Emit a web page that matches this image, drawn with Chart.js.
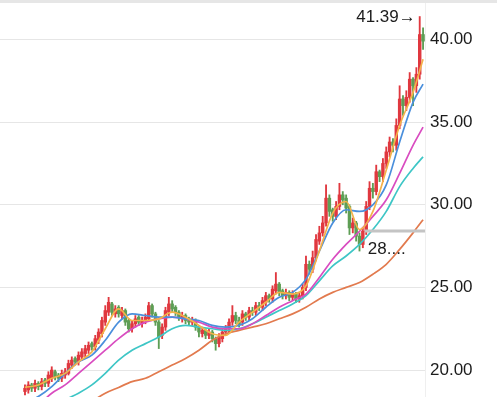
<!DOCTYPE html>
<html>
<head>
<meta charset="utf-8">
<script src="https://cdn.jsdelivr.net/npm/chart.js@4.4.1/dist/chart.umd.min.js"></script>
<style>
html,body{margin:0;padding:0;background:#fff;}
#wrap{position:relative;width:497px;height:397px;}
</style>
</head>
<body>
<div id="wrap"><canvas id="c"></canvas></div>
<script>
// ---- data ----
const openP  = [18.7,18.8,19.1,18.9,19.2,19.0,19.4,19.2,19.5,19.9,19.7,19.5,19.7,19.8,20.3,20.7,20.5,20.8,21.0,21.2,21.6,21.4,21.8,22.2,22.9,23.5,24.0,23.4,23.8,23.3,23.6,23.0,22.5,22.8,23.2,22.8,23.0,23.1,23.9,23.4,22.9,22.1,22.6,23.5,24.0,23.8,23.5,23.1,23.3,23.1,22.9,23.0,22.6,22.2,22.4,22.1,22.3,21.9,21.6,21.9,22.3,22.5,22.9,23.3,23.0,22.9,23.4,23.2,23.6,23.5,23.9,23.8,24.1,24.5,24.3,24.8,25.2,24.8,24.5,24.7,24.4,24.6,24.3,24.5,25.0,26.4,26.1,26.8,27.8,28.3,28.9,30.4,29.7,29.3,29.9,30.6,30.4,29.9,28.6,28.9,28.1,27.6,28.4,29.9,31.0,30.8,32.0,31.7,32.5,33.2,33.8,33.6,34.8,36.4,36.0,36.5,37.6,37.2,37.9,40.3];
const closeP = [18.9,19.1,18.9,19.2,19.0,19.3,19.2,19.7,20.0,19.6,19.5,19.8,19.9,20.4,20.6,20.5,20.9,21.1,21.3,21.5,21.4,21.9,22.3,23.0,23.6,24.1,23.5,23.7,23.4,23.6,22.9,22.5,22.8,23.1,22.9,23.0,23.2,23.9,23.4,22.9,22.0,22.6,23.6,24.0,23.7,23.5,23.2,23.3,23.0,22.9,23.0,22.6,22.3,22.4,22.1,22.3,21.9,21.6,22.0,22.3,22.5,22.9,23.3,23.0,22.8,23.4,23.2,23.6,23.5,23.9,23.8,24.2,24.5,24.3,24.9,25.2,24.7,24.5,24.7,24.4,24.6,24.3,24.5,25.0,26.4,26.1,26.8,27.9,28.3,28.9,30.4,29.6,29.3,29.9,30.6,30.3,29.8,28.6,28.9,28.1,27.6,28.4,29.9,31.0,30.8,32.0,31.7,32.5,33.2,33.8,33.6,34.8,36.4,36.0,36.5,37.6,37.2,37.9,40.3,39.9];
const highP  = [19.1,19.3,19.2,19.4,19.3,19.5,19.5,19.9,20.2,20.0,19.8,20.0,20.1,20.6,20.8,20.8,21.1,21.3,21.5,21.7,21.7,22.1,22.5,23.2,23.9,24.4,24.1,23.9,23.9,23.8,23.7,23.1,23.0,23.3,23.3,23.2,23.4,24.1,24.0,23.5,23.0,22.8,23.8,24.4,24.2,23.9,23.6,23.5,23.4,23.2,23.2,23.1,22.7,22.6,22.5,22.5,22.4,22.0,22.2,22.5,22.7,23.1,23.9,23.5,23.2,23.6,23.5,23.8,23.8,24.1,24.1,24.4,24.7,24.6,25.1,25.9,25.3,24.9,24.9,24.8,24.8,24.7,24.7,25.2,26.9,26.6,27.2,28.2,28.7,29.3,31.2,30.6,29.8,30.2,31.3,30.8,30.6,30.0,29.2,29.0,28.3,28.6,30.2,31.4,31.3,32.4,32.1,32.8,33.5,34.1,34.0,35.2,37.2,36.6,36.9,38.0,37.7,38.3,41.39,40.7];
const lowP   = [18.5,18.6,18.7,18.7,18.8,18.8,19.0,19.0,19.3,19.4,19.3,19.3,19.5,19.7,20.1,20.3,20.3,20.6,20.8,21.0,21.2,21.2,21.6,22.0,22.7,23.3,23.3,23.2,23.2,23.1,22.7,22.3,22.3,22.6,22.7,22.6,22.8,23.0,23.2,22.7,21.3,21.9,22.4,23.3,23.5,23.3,23.0,22.9,22.8,22.7,22.7,22.4,22.0,22.0,21.9,21.9,21.7,21.2,21.4,21.7,22.1,22.3,22.7,22.8,22.6,22.7,23.0,23.0,23.3,23.3,23.6,23.6,23.9,24.1,24.1,24.6,24.5,24.3,24.3,24.2,24.2,24.1,24.1,24.3,24.8,25.8,25.9,26.6,27.6,28.1,28.7,29.3,29.0,29.1,29.7,30.0,29.5,28.2,28.3,27.8,27.2,27.4,28.2,29.7,30.4,30.6,31.4,31.4,32.2,32.9,33.2,33.3,34.6,35.4,35.7,36.2,36.0,36.8,37.6,39.4];

// moving-average lines, sampled at these candle positions
const maIdx  = [0,4,8,12,16,20,24,28,32,36,40,44,48,52,56,60,64,68,72,76,80,84,88,92,96,100,104,108,112,116,119];
const ma5    = [18.95,19.1,19.5,19.8,20.5,21.1,22.5,23.7,23.0,23.0,23.1,23.5,23.2,22.7,22.2,22.1,22.9,23.5,24.1,24.7,24.6,25.1,27.2,29.5,30.2,28.5,29.6,32.1,34.8,36.8,38.8];
const ma10   = [18.0,18.4,19.0,19.8,20.5,20.9,21.8,22.9,23.4,23.3,23.2,23.2,23.1,23.0,22.7,22.6,22.7,23.1,23.8,24.4,24.7,25.5,27.2,28.9,29.7,29.6,30.0,31.2,33.8,36.2,37.3];
const ma20   = [17.5,17.9,18.6,19.1,19.8,20.5,21.2,21.9,22.5,22.9,23.1,23.2,23.1,22.9,22.6,22.5,22.5,22.8,23.3,23.8,24.2,24.6,25.6,26.7,27.6,28.4,29.3,30.3,31.9,33.6,34.7];
const ma30   = [16.8,17.2,17.7,18.2,18.6,19.1,19.8,20.6,21.2,21.6,22.0,22.5,22.7,22.6,22.5,22.4,22.5,22.8,23.2,23.6,24.0,24.5,25.4,26.3,26.9,27.6,28.5,29.6,31.1,32.2,32.9];
const ma60   = [15.5,16.0,16.5,17.0,17.6,18.1,18.6,18.95,19.3,19.5,19.9,20.3,20.7,21.2,21.8,22.2,22.4,22.6,22.8,23.1,23.4,23.8,24.3,24.7,25.0,25.3,25.8,26.4,27.3,28.3,29.1];

const yTicks = [20,25,30,35,40];
const refPrice = 28.42;
const refStartIdx = 101.6;
const refLabel = "28....";
const maxLabelArrow = "\u2192";

// ---- build ----
const RED = '#e0383f', GREEN = '#5e9e55';
const idx = closeP.map((_, i) => i);
const candleColor = idx.map(i => closeP[i] >= openP[i] ? RED : GREEN);
const maxHigh = Math.max(...highP);
const maxIdx = highP.indexOf(maxHigh);

function maLine(vals, color, order) {
  return {
    type: 'line',
    data: maIdx.map((x, k) => ({x: x, y: vals[k]})),
    borderColor: color, borderWidth: 1.7, pointRadius: 0,
    cubicInterpolationMode: 'monotone', fill: false, order: order
  };
}

const XMIN = -7.47, XMAX = 119.58;

const annot = {
  id: 'annot',
  afterDraw(chart) {
    const ctx = chart.ctx, xs = chart.scales.x, ys = chart.scales.y;
    ctx.save();
    ctx.fillStyle = '#e6e6e6';
    ctx.fillRect(0, 0, chart.width, 3);
    ctx.fillStyle = '#1c1c1c';
    ctx.font = '17px "Liberation Sans", Arial, sans-serif';
    ctx.textBaseline = 'middle';
    ctx.textAlign = 'right';
    ctx.fillText(maxHigh.toFixed(2) + maxLabelArrow, xs.getPixelForValue(maxIdx) - 4, ys.getPixelForValue(maxHigh) + 1);
    ctx.textAlign = 'left';
    ctx.fillText(refLabel, xs.getPixelForValue(refStartIdx) + 3, ys.getPixelForValue(refPrice) + 18);
    ctx.restore();
  }
};

new Chart(document.getElementById('c'), {
  data: {
    datasets: [
      maLine(ma5,  '#f3b24a', 1),
      maLine(ma10, '#4a8fdc', 2),
      maLine(ma20, '#d94cc0', 3),
      maLine(ma30, '#3ec6c6', 4),
      maLine(ma60, '#e27a4e', 5),
      {
        type: 'line',
        data: [{x: refStartIdx, y: refPrice}, {x: XMAX, y: refPrice}],
        borderColor: '#c4c4c4', borderWidth: 3, pointRadius: 0, order: 0
      },
      {
        type: 'bar', grouped: false,
        data: idx.map(i => ({x: i, y: [openP[i], closeP[i]]})),
        backgroundColor: candleColor, barThickness: 2.8, borderWidth: 0, order: 10
      },
      {
        type: 'bar', grouped: false,
        data: idx.map(i => ({x: i, y: [lowP[i], highP[i]]})),
        backgroundColor: candleColor, barThickness: 1.2, borderWidth: 0, order: 11
      }
    ]
  },
  options: {
    responsive: true, maintainAspectRatio: false, animation: false,
    layout: {padding: 0},
    plugins: {legend: {display: false}, tooltip: {enabled: false}},
    scales: {
      x: {type: 'linear', min: XMIN, max: XMAX, display: false, offset: false},
      y: {
        type: 'linear', position: 'right', min: 18.37, max: 42.39,
        afterBuildTicks(s) { s.ticks = yTicks.map(v => ({value: v})); },
        afterFit(s) { s.width = 72; s.paddingTop = 0; s.paddingBottom = 0; },
        grid: {color: '#e6e6e6', lineWidth: 1, drawTicks: false},
        border: {display: true, color: '#efefef'},
        ticks: {
          padding: 5, color: '#1c1c1c',
          font: {family: '"Liberation Sans", Arial, sans-serif', size: 17},
          callback: v => Number(v).toFixed(2)
        }
      }
    }
  },
  plugins: [annot]
});
</script>
</body>
</html>
